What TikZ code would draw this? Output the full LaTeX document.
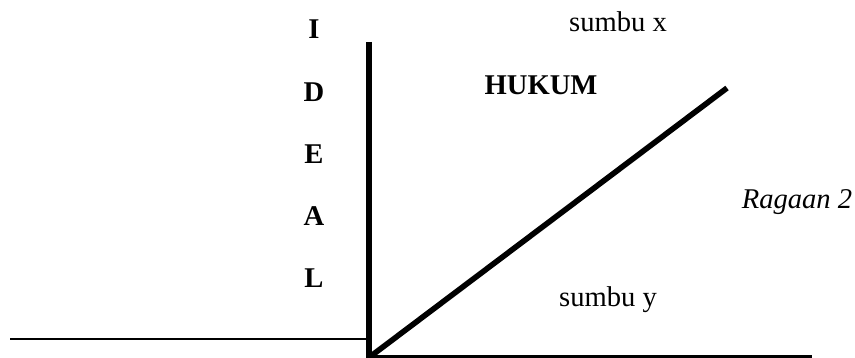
\documentclass[tikz,border=0pt]{standalone}
\usepackage{fontspec}
\setmainfont{Liberation Serif}
\begin{document}
\begin{tikzpicture}[x=0.5pt,y=-0.5pt,
  lbl/.style={font=\fontsize{14.3}{16}\selectfont, anchor=base, inner sep=0pt},
  blbl/.style={lbl, font=\fontsize{14.3}{16}\selectfont\bfseries},
  ilbl/.style={lbl, font=\fontsize{14.3}{16}\selectfont\itshape},
  heavy/.style={line width=2.8pt},
  light/.style={line width=1.2pt}]
\useasboundingbox (0,0) rectangle (855,358);
% axes
\coordinate (top) at (369,42);
\coordinate (bot) at (369,358);
\coordinate (o) at (371,356);
\coordinate (left) at (10,339);
\coordinate (mid) at (369,339);
\coordinate (diagend) at (727,88);
\coordinate (right) at (812,356.5);
\draw[light] (left) -- (mid);
\draw[light] (o |- right) -- (right);
\draw[heavy] (top) -- (bot);
\draw[heavy] (o) -- (diagend);
% labels
\node[blbl] (i) at (314,39) {I};
\node[blbl] (d) at (314,102) {D};
\node[blbl] (e) at (314,163) {E};
\node[blbl] (a) at (314,225) {A};
\node[blbl] (l) at (314,287) {L};
\node[lbl] (sx) at (618,32) {sumbu x};
\node[blbl] (hukum) at (541,95) {HUKUM};
\node[ilbl] (ragaan) at (797,208) {Ragaan 2};
\node[lbl] (sy) at (608,306) {sumbu y};
\end{tikzpicture}
\end{document}
